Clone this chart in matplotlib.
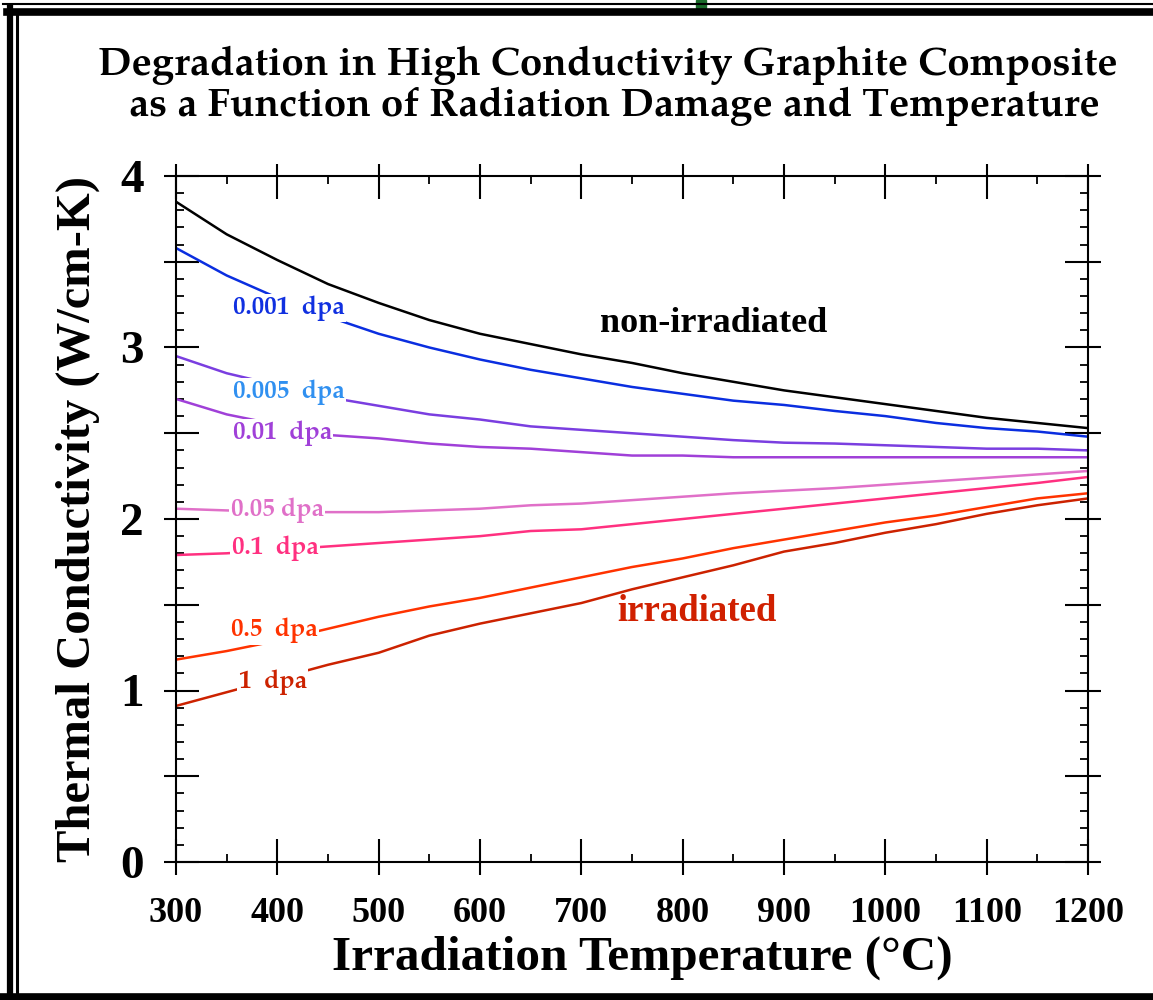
import matplotlib
matplotlib.use("Agg")
import matplotlib.pyplot as plt
from matplotlib.lines import Line2D
from matplotlib.patches import Rectangle
from matplotlib.ticker import MultipleLocator
import logging
logging.getLogger("matplotlib.font_manager").setLevel(logging.ERROR)

temps = [300, 350, 400, 450, 500, 550, 600, 650, 700, 750, 800, 850, 900, 950, 1000, 1050, 1100, 1150, 1200]
k_nonirr = [3.85, 3.66, 3.51, 3.37, 3.26, 3.16, 3.08, 3.02, 2.96, 2.91, 2.85, 2.80, 2.75, 2.71, 2.67, 2.63, 2.59, 2.56, 2.53]
k_0001 = [3.58, 3.42, 3.29, 3.18, 3.08, 3.00, 2.93, 2.87, 2.82, 2.77, 2.73, 2.69, 2.665, 2.63, 2.60, 2.56, 2.53, 2.51, 2.48]
k_0005 = [2.95, 2.85, 2.78, 2.71, 2.66, 2.61, 2.58, 2.54, 2.52, 2.50, 2.48, 2.46, 2.445, 2.44, 2.43, 2.42, 2.41, 2.41, 2.40]
k_001 = [2.70, 2.61, 2.55, 2.49, 2.47, 2.44, 2.42, 2.41, 2.39, 2.37, 2.37, 2.36, 2.36, 2.36, 2.36, 2.36, 2.36, 2.36, 2.36]
k_005 = [2.06, 2.05, 2.04, 2.04, 2.04, 2.05, 2.06, 2.08, 2.09, 2.11, 2.13, 2.15, 2.165, 2.18, 2.20, 2.22, 2.24, 2.26, 2.28]
k_01 = [1.79, 1.80, 1.82, 1.84, 1.86, 1.88, 1.90, 1.93, 1.94, 1.97, 2.00, 2.03, 2.06, 2.09, 2.12, 2.15, 2.18, 2.21, 2.245]
k_05 = [1.18, 1.23, 1.29, 1.36, 1.43, 1.49, 1.54, 1.60, 1.66, 1.72, 1.77, 1.83, 1.88, 1.93, 1.98, 2.02, 2.07, 2.12, 2.15]
k_1 = [0.91, 0.99, 1.07, 1.15, 1.22, 1.32, 1.39, 1.45, 1.51, 1.59, 1.66, 1.73, 1.81, 1.86, 1.92, 1.97, 2.03, 2.08, 2.12]

series = [
    (k_nonirr, "#000000"),
    (k_0001, "#0a2ee0"),
    (k_0005, "#7a3ee0"),
    (k_001, "#a040d8"),
    (k_005, "#e070c8"),
    (k_01, "#ff3080"),
    (k_05, "#ff3300"),
    (k_1, "#cc2200"),
]

dpa_labels = [
    ("0.001  dpa", 356, 3.23, "#1030e0"),
    ("0.005  dpa", 356, 2.74, "#3090f0"),
    ("0.01  dpa", 356, 2.50, "#a040d8"),
    ("0.05 dpa", 354, 2.05, "#e070c8"),
    ("0.1  dpa", 355, 1.83, "#ff3080"),
    ("0.5  dpa", 354, 1.35, "#ff3300"),
    ("1  dpa", 362, 1.05, "#cc2200"),
]

W, H = 1153, 1000
fig = plt.figure(figsize=(W / 100, H / 100), dpi=100)
fig.patch.set_facecolor("white")

L, R, T, B = 176, 1088, 176, 862
pos = [L / W, 1 - B / H, (R - L) / W, (B - T) / H]
ax = fig.add_axes(pos)

for vals, col in series:
    ax.plot(temps, vals, color=col, lw=1.8, zorder=2)

ax.set_xlim(300, 1200)
ax.set_ylim(0, 4)

tickfont = "Liberation Serif"
palfont = ["TeX Gyre Pagella", "P052", "Libre Baskerville", "DejaVu Serif"]
ax.xaxis.set_major_locator(MultipleLocator(100))
ax.xaxis.set_minor_locator(MultipleLocator(50))
ax.yaxis.set_major_locator(MultipleLocator(0.5))
ax.yaxis.set_minor_locator(MultipleLocator(0.1))
ax.tick_params(which="major", direction="in", length=16.5, width=1.5,
               top=True, right=True)
ax.tick_params(which="minor", direction="in", length=5.5, width=1.3,
               top=True, right=True)
ax.tick_params(axis="x", which="major", pad=25, labelsize=26)
ax.tick_params(axis="y", which="major", pad=23, labelsize=34)
ax.set_xticks([300, 400, 500, 600, 700, 800, 900, 1000, 1100, 1200])
ax.set_yticks([0, 0.5, 1, 1.5, 2, 2.5, 3, 3.5, 4])
ax.set_yticklabels(["0", "", "1", "", "2", "", "3", "", "4"])
for lab in ax.get_xticklabels() + ax.get_yticklabels():
    lab.set_fontfamily(tickfont)
    lab.set_fontweight("bold")
for sp in ax.spines.values():
    sp.set_linewidth(1.5)

ax.set_xlabel("Irradiation Temperature (\u00b0C)", fontfamily=tickfont,
              fontweight="bold", fontsize=35.5)
ax.xaxis.set_label_coords((642 - L) / (R - L), (B - 936) / (B - T))
ax.set_ylabel("Thermal Conductivity (W/cm-K)", fontfamily=tickfont,
              fontweight="bold", fontsize=35, labelpad=15)

# outward tick stubs
ax2 = fig.add_axes(pos)
ax2.set_xlim(300, 1200)
ax2.set_ylim(0, 4)
ax2.patch.set_visible(False)
for sp in ax2.spines.values():
    sp.set_visible(False)
ax2.set_xticks([300, 400, 500, 600, 700, 800, 900, 1000, 1100, 1200])
ax2.set_yticks([0, 0.5, 1, 1.5, 2, 2.5, 3, 3.5, 4])
ax2.tick_params(which="major", direction="out", length=9, width=1.5,
                top=True, right=True, labelbottom=False, labelleft=False)
ax2.minorticks_off()

for txt, x, y, col in dpa_labels:
    ax.text(x, y, txt, color=col, fontfamily=palfont, fontweight="bold",
            fontsize=18, ha="left", va="center", zorder=3,
            bbox=dict(facecolor="white", edgecolor="none", pad=1.0))
ax.text(831, 3.14, "non-irradiated", color="black", fontfamily=tickfont,
        fontweight="bold", fontsize=26, ha="center", va="center")
ax.text(814, 1.46, "irradiated", color="#d02000", fontfamily=tickfont,
        fontweight="bold", fontsize=26.5, ha="center", va="center")

fig.text(608 / W, 1 - 65 / H, "Degradation in High Conductivity Graphite Composite",
         fontfamily=palfont, fontweight="bold", fontsize=29, ha="center", va="center")
fig.text(614 / W, 1 - 106 / H, "as a Function of Radiation Damage and Temperature",
         fontfamily=palfont, fontweight="bold", fontsize=29, ha="center", va="center")

# decorative frame
def hline(y, x0, x1, lw):
    fig.add_artist(Line2D([x0 / W, x1 / W], [1 - y / H, 1 - y / H], color="black", lw=lw))

def vline(x, y0, y1, lw):
    fig.add_artist(Line2D([x / W, x / W], [1 - y0 / H, 1 - y1 / H], color="black", lw=lw))

hline(3.5, 3, W, 1.5)
hline(11.5, 7, W, 5.5)
vline(10, 8, H, 4.5)
vline(16.5, 15, H, 2.2)
hline(996.5, 0, W, 5.5)
fig.add_artist(Rectangle((696 / W, 1 - 8 / H), 10 / W, 8 / H, color="#1a6a2a"))

fig.savefig("out.png", dpi=100)
